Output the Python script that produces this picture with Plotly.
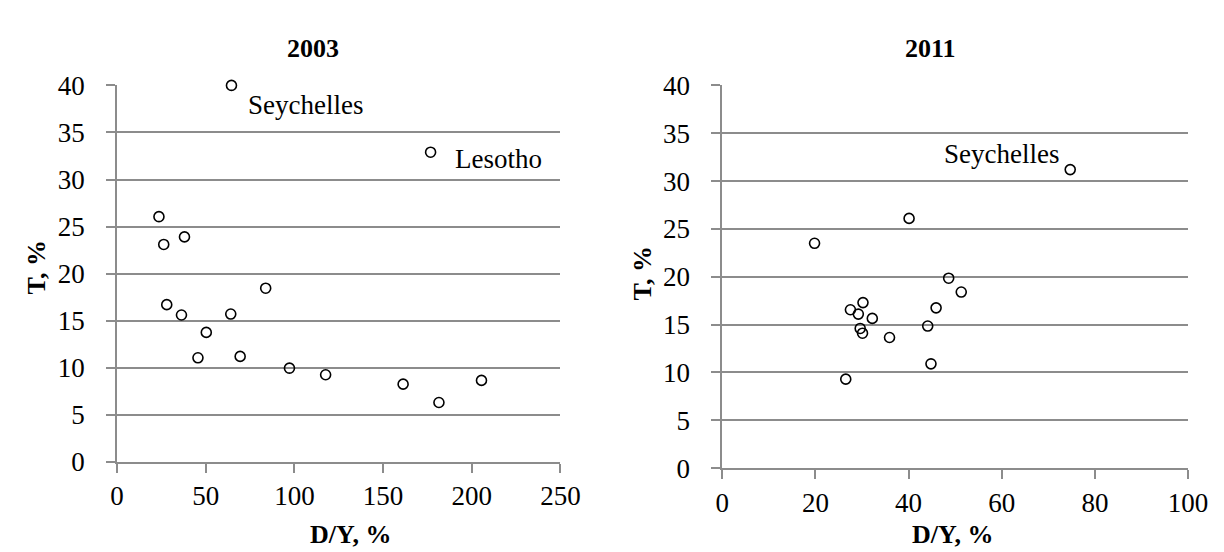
import plotly.graph_objects as go

# 2003 panel
dy_2003 = [64.5, 176.8, 23.6, 26.3, 38.0, 83.8, 28.0, 36.3, 64.1, 50.3, 45.6, 69.4, 97.2, 117.6, 161.3, 181.5, 205.5]
t_2003 = [40.0, 32.9, 26.05, 23.1, 23.9, 18.45, 16.7, 15.6, 15.7, 13.75, 11.05, 11.2, 9.95, 9.25, 8.25, 6.3, 8.65]

# 2011 panel
dy_2011 = [74.7, 40.1, 19.8, 48.6, 51.3, 30.2, 27.5, 45.9, 29.2, 32.2, 44.1, 29.6, 30.1, 35.9, 44.8, 26.5]
t_2011 = [31.2, 26.1, 23.5, 19.85, 18.4, 17.3, 16.55, 16.75, 16.1, 15.65, 14.85, 14.6, 14.1, 13.65, 10.9, 9.3]

x_ticks_2003 = [0, 50, 100, 150, 200, 250]
x_ticks_2011 = [0, 20, 40, 60, 80, 100]
y_ticks = [0, 5, 10, 15, 20, 25, 30, 35, 40]

FONT = "Liberation Serif"
GRID = "#8c8c8c"
FS = 27

fig = go.Figure()
marker = dict(symbol="circle-open", size=10, color="black", line=dict(width=1.6, color="black"))
fig.add_trace(go.Scatter(x=dy_2003, y=t_2003, mode="markers", marker=marker, xaxis="x", yaxis="y",
                         showlegend=False, cliponaxis=False))
fig.add_trace(go.Scatter(x=dy_2011, y=t_2011, mode="markers", marker=marker, xaxis="x2", yaxis="y2",
                         showlegend=False, cliponaxis=False))

W, H = 1224, 552

def xa(domain, rng, ticks, anchor):
    return dict(domain=domain, range=rng, tickvals=ticks, ticktext=[str(t) for t in ticks],
                showgrid=False, zeroline=False, showline=True, linecolor=GRID, linewidth=2,
                ticks="outside", ticklen=9, tickcolor=GRID, tickwidth=2,
                tickfont=dict(family=FONT, size=FS, color="black"), anchor=anchor,
                ticklabelstandoff=0, fixedrange=True)

def ya(domain, ticks, anchor):
    return dict(domain=domain, range=[0, 40], tickvals=ticks, ticktext=[str(t) for t in ticks],
                showgrid=True, gridcolor=GRID, gridwidth=2, zeroline=False,
                showline=True, linecolor=GRID, linewidth=2,
                ticks="outside", ticklen=9, tickcolor=GRID, tickwidth=2,
                tickfont=dict(family=FONT, size=FS, color="black"), anchor=anchor,
                ticklabelstandoff=16, fixedrange=True)

fig.update_layout(
    width=W, height=H, margin=dict(l=0, r=0, t=0, b=0),
    paper_bgcolor="white", plot_bgcolor="white",
    xaxis=xa([104.4 / W, 557.7 / W], [0, 250], x_ticks_2003, "y"),
    yaxis=ya([1 - 464 / H, 1 - 66 / H], y_ticks, "x"),
    xaxis2=xa([723.3 / W, 1199.5 / W], [0, 100], x_ticks_2011, "y2"),
    yaxis2=ya([1 - 470.7 / H, 1 - 66 / H], y_ticks, "x2"),
)

def paper_text(text, x, y, size, bold=True, angle=0):
    fig.add_annotation(text=f"<b>{text}</b>" if bold else text, x=x / W, y=1 - y / H,
                       xref="paper", yref="paper", showarrow=False, textangle=angle,
                       font=dict(family=FONT, size=size, color="black"),
                       xanchor="center", yanchor="middle")

paper_text("2003", 305, 27, 26)
paper_text("2011", 936.6, 27, 26)
paper_text("D/Y, %", 343, 541, 26)
paper_text("D/Y, %", 958.7, 541, 26)
paper_text("T, %", 22, 259, 26, angle=-90)
paper_text("T, %", 642, 265, 26, angle=-90)

fig.add_annotation(text="Seychelles", x=72.9, y=37.9, xref="x", yref="y", showarrow=False,
                   xanchor="left", yanchor="middle", font=dict(family=FONT, size=FS, color="black"))
fig.add_annotation(text="Lesotho", x=189.5, y=32.15, xref="x", yref="y", showarrow=False,
                   xanchor="left", yanchor="middle", font=dict(family=FONT, size=FS, color="black"))
fig.add_annotation(text="Seychelles", x=72.7, y=32.85, xref="x2", yref="y2", showarrow=False,
                   xanchor="right", yanchor="middle", font=dict(family=FONT, size=FS, color="black"))

fig.write_html("out.html")
